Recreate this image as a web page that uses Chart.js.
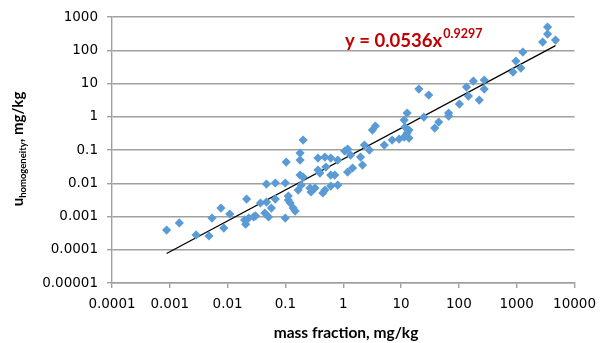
<!DOCTYPE html>
<html>
<head>
<meta charset="utf-8">
<script src="https://cdn.jsdelivr.net/npm/chart.js@4.4.1/dist/chart.umd.min.js"></script>
<style>
  html, body { margin: 0; padding: 0; background: #fff; }
  #wrap { width: 604px; height: 343px; }
</style>
</head>
<body>
<div id="wrap"><canvas id="chart" width="604" height="343"></canvas></div>
<script>
const massFraction = [
  0.00088, 0.00146, 0.00285, 0.00476, 0.00536, 0.00766, 0.0086, 0.0109, 0.0213, 0.0197,
  0.0205, 0.0231, 0.0304, 0.037, 0.0469, 0.0668, 0.0469, 0.044, 0.051, 0.0571,
  0.0668, 0.0993, 0.0993, 0.112, 0.121, 0.136, 0.147, 0.166, 0.187, 0.179,
  0.202, 0.103, 0.179, 0.179, 0.202, 0.266, 0.277, 0.324, 0.365, 0.395,
  0.444, 0.481, 0.608, 0.713, 0.608, 0.802, 0.365, 0.481, 0.608, 0.802,
  1.06, 1.19, 1.34, 1.45, 1.19, 2.15, 2.32, 2.83, 3.19, 3.59,
  5.12, 7.0, 9.24, 11.3, 12.7, 13.7, 11.7, 11.3, 12.7, 20.3,
  30.1, 24.8, 38.2, 44.8, 66.4, 66.4, 102, 135, 146, 178,
  225, 274, 274, 861, 969, 1180, 1277, 2810, 3420, 3420,
  4690, 0.112, 0.0281, 13.7, 0.5, 1.99
];
const uHomogeneity = [
  0.00039, 0.00064, 0.00028, 0.00026, 0.0009, 0.0018, 0.00045, 0.00119, 0.00336, 0.00079,
  0.00059, 0.0009, 0.00104, 0.00255, 0.0095, 0.0102, 0.00273, 0.00127, 0.00097, 0.0018,
  0.00336, 0.0102, 0.0009, 0.00414, 0.00255, 0.0018, 0.00146, 0.00627, 0.00885, 0.0177,
  0.0154, 0.0436, 0.0813, 0.05, 0.2, 0.0072, 0.00546, 0.0072, 0.025, 0.0203,
  0.0051, 0.00627, 0.0177, 0.0177, 0.00826, 0.00885, 0.0574, 0.0615, 0.0574, 0.05,
  0.0933, 0.107, 0.0708, 0.0288, 0.0217, 0.0354, 0.141, 0.1, 0.4, 0.527,
  0.141, 0.2, 0.214, 0.246, 0.324, 0.4, 0.492, 0.798, 1.3, 6.84,
  4.51, 0.98, 0.459, 0.695, 1.3, 1.05, 2.42, 7.85, 4.21, 11.9,
  3.19, 12.7, 6.84, 22.2, 47.5, 29.3, 88.6, 177, 308, 500,
  203, 0.00313, 0.00097, 0.23, 0.0308, 0.0615
];

// power trendline end points
const trendX = [0.00088, 4690];
const trendY = [0.0000770, 139];

const xTicks = [0.0001, 0.001, 0.01, 0.1, 1, 10, 100, 1000, 10000];
const xTickLabels = ['0.0001', '0.001', '0.01', '0.1', '1', '10', '100', '1000', '10000'];
const yTicks = [0.00001, 0.0001, 0.001, 0.01, 0.1, 1, 10, 100, 1000];
const yTickLabels = ['0.00001', '0.0001', '0.001', '0.01', '0.1', '1', '10', '100', '1000'];

const gridGray = '#a0a0a0';
const tickFont = { family: 'DejaVu Sans', size: 13.5 };

const points = massFraction.map((x, i) => ({ x: x, y: uHomogeneity[i] }));
const trend = trendX.map((x, i) => ({ x: x, y: trendY[i] }));

// titles and the equation label
const textPlugin = {
  id: 'texts',
  afterDraw(chart) {
    const ctx = chart.ctx;
    ctx.save();
    ctx.fillStyle = '#000';
    ctx.font = 'bold 15.5px Lato';
    ctx.textAlign = 'center';
    ctx.textBaseline = 'middle';
    ctx.fillText('mass fraction, mg/kg', 346, 333);

    // y title, rotated, with subscript
    ctx.translate(18, 149);
    ctx.rotate(-Math.PI / 2);
    ctx.textAlign = 'left';
    ctx.textBaseline = 'alphabetic';
    const uPart = 'u';
    const subPart = 'homogeneity';
    const rest = ', mg/kg';
    ctx.font = 'bold 15px Lato';
    const wU = ctx.measureText(uPart).width;
    const wRest = ctx.measureText(rest).width;
    ctx.font = 'bold 9.5px Lato';
    const wSub = ctx.measureText(subPart).width;
    let x0 = -(wU + wSub + wRest) / 2;
    ctx.font = 'bold 15px Lato';
    ctx.fillText(uPart, x0, 5);
    ctx.font = 'bold 9.5px Lato';
    ctx.fillText(subPart, x0 + wU, 8);
    ctx.font = 'bold 15px Lato';
    ctx.fillText(rest, x0 + wU + wSub, 5);
    ctx.restore();

    // equation
    ctx.save();
    ctx.fillStyle = '#c00000';
    ctx.textBaseline = 'alphabetic';
    ctx.font = 'bold 18.5px Lato';
    const eq = 'y = 0.0536x';
    ctx.fillText(eq, 345, 47);
    const w = ctx.measureText(eq).width;
    ctx.font = 'bold 12.5px Lato';
    ctx.fillText('0.9297', 345 + w + 1, 38);
    ctx.restore();
  }
};

new Chart(document.getElementById('chart').getContext('2d'), {
  type: 'scatter',
  data: {
    datasets: [
      {
        label: 'data',
        data: points,
        pointStyle: 'rectRot',
        pointRadius: 4.6,
        pointHoverRadius: 4.6,
        backgroundColor: '#5b9bd5',
        borderColor: '#5b9bd5',
        borderWidth: 0
      },
      {
        label: 'trend',
        type: 'line',
        data: trend,
        borderColor: '#000',
        borderWidth: 1.3,
        pointRadius: 0,
        fill: false
      }
    ]
  },
  options: {
    responsive: false,
    animation: false,
    layout: { padding: { left: 0, top: 17, right: 25, bottom: 0 } },
    plugins: {
      legend: { display: false },
      tooltip: { enabled: false }
    },
    scales: {
      x: {
        type: 'logarithmic',
        min: 0.0001,
        max: 10000,
        afterBuildTicks: scale => { scale.ticks = xTicks.map(v => ({ value: v })); },
        afterFit: scale => { scale.height = 60; },
        ticks: {
          color: '#000',
          font: tickFont,
          padding: 8,
          maxRotation: 0,
          autoSkip: false,
          callback: (value, i) => xTickLabels[i]
        },
        grid: {
          drawOnChartArea: false,
          color: gridGray,
          tickLength: 5,
          lineWidth: 1.4
        },
        border: { color: gridGray, width: 1.4 }
      },
      y: {
        type: 'logarithmic',
        min: 0.00001,
        max: 1000,
        afterBuildTicks: scale => { scale.ticks = yTicks.map(v => ({ value: v })); },
        afterFit: scale => { scale.width = 112; },
        ticks: {
          color: '#000',
          font: tickFont,
          padding: 9,
          autoSkip: false,
          callback: (value, i) => yTickLabels[i]
        },
        grid: {
          color: gridGray,
          tickLength: 5,
          lineWidth: 1.4
        },
        border: { color: gridGray, width: 1.4 }
      }
    }
  },
  plugins: [textPlugin]
});
</script>
</body>
</html>
